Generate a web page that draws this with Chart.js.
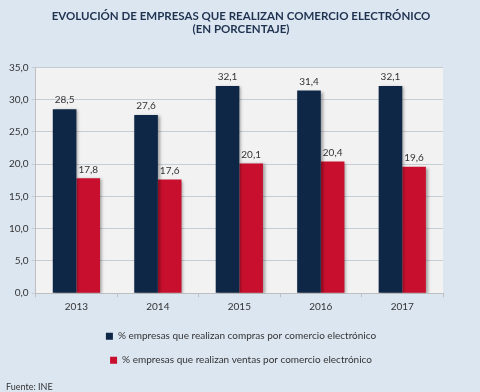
<!doctype html>
<html>
    <head>
        <title>Comercio electrónico</title>
        <meta name="viewport" content="width=device-width, initial-scale=1.0">
        <script src="https://cdn.jsdelivr.net/npm/chart.js@4.4.1/dist/chart.umd.min.js"></script>
        <style>
            html, body { margin: 0; padding: 0; background: #dce6f1; }
            #container { position: relative; width: 480px; height: 392px; }
        </style>
    </head>
    <body>
        <div id=container>
            <canvas id="ecomChart" width="480" height="392"></canvas>
        </div>

        <script>
            var years = ['2013', '2014', '2015', '2016', '2017'];
            var compras = [28.5, 27.6, 32.1, 31.4, 32.1];
            var ventas = [17.8, 17.6, 20.1, 20.4, 19.6];
            var seriesNames = ['% empresas que realizan compras por comercio electrónico',
                               '% empresas que realizan ventas por comercio electrónico'];
            var titleLines = ['EVOLUCIÓN DE EMPRESAS QUE REALIZAN COMERCIO ELECTRÓNICO', '(EN PORCENTAJE)'];
            var sourceText = 'Fuente: INE';

            function coma(v) {
                return Number(v).toFixed(1).replace('.', ',');
            }

            // plot area background + bar shadows + value labels
            var decor = {
                id: 'decor',
                beforeDraw: function(chart) {
                    var a = chart.chartArea, ctx = chart.ctx;
                    ctx.save();
                    ctx.fillStyle = '#f2f2f2';
                    ctx.fillRect(a.left, a.top, a.right - a.left, a.bottom - a.top);
                    ctx.restore();
                },
                beforeDatasetsDraw: function(chart) {
                    var ctx = chart.ctx;
                    ctx.save();
                    ctx.shadowColor = 'rgba(0,0,0,0.35)';
                    ctx.shadowOffsetX = 2;
                    ctx.shadowOffsetY = 1;
                    ctx.shadowBlur = 3;
                },
                afterDatasetsDraw: function(chart) {
                    var ctx = chart.ctx;
                    ctx.restore();
                    ctx.save();
                    ctx.font = '10px Lato';
                    ctx.fillStyle = '#333333';
                    ctx.textAlign = 'center';
                    ctx.textBaseline = 'bottom';
                    chart.data.datasets.forEach(function(ds, i) {
                        chart.getDatasetMeta(i).data.forEach(function(bar, j) {
                            ctx.fillText(coma(ds.data[j]), bar.x, bar.y - 4);
                        });
                    });
                    ctx.restore();
                }
            };

            var ctx = document.getElementById('ecomChart').getContext('2d');
            var chart = new Chart(ctx, {
                type: 'bar',
                data: {
                    labels: years,
                    datasets: [{
                        label: seriesNames[0],
                        backgroundColor: '#0f2747',
                        data: compras
                    }, {
                        label: seriesNames[1],
                        backgroundColor: '#c8102e',
                        data: ventas
                    }]
                },
                options: {
                    responsive: false,
                    animation: false,
                    datasets: {
                        bar: { categoryPercentage: 0.58, barPercentage: 1.0 }
                    },
                    layout: { padding: { top: 2, left: 6, right: 4, bottom: 0 } },
                    scales: {
                        x: {
                            grid: { drawOnChartArea: false, tickLength: 4, color: '#bfbfbf' },
                            border: { color: '#bfbfbf' },
                            ticks: { color: '#333333', font: { family: 'Lato', size: 10 }, padding: 4 }
                        },
                        y: {
                            min: 0,
                            max: 35,
                            ticks: {
                                stepSize: 5,
                                color: '#333333',
                                font: { family: 'Lato', size: 10 },
                                padding: 3,
                                callback: function(v) { return coma(v); }
                            },
                            grid: { color: '#c6ccd4', tickLength: 4 },
                            border: { color: '#bfbfbf' }
                        },
                        // empty right axis, only keeps the plot narrower than the page
                        yPad: {
                            position: 'right',
                            min: 0,
                            max: 1,
                            grid: { drawOnChartArea: false, drawTicks: false },
                            border: { display: false },
                            ticks: { display: false },
                            afterFit: function(s) { s.width = 33; }
                        }
                    },
                    plugins: {
                        title: {
                            display: true,
                            text: titleLines,
                            color: '#1f3350',
                            font: { family: 'Lato', size: 11.5, weight: 'bold', lineHeight: 1.1 },
                            padding: { top: 8, bottom: 32 }
                        },
                        legend: {
                            position: 'bottom',
                            labels: {
                                color: '#333333',
                                font: { family: 'Lato', size: 10 },
                                boxWidth: 7,
                                boxHeight: 7,
                                padding: 14
                            }
                        },
                        subtitle: {
                            display: true,
                            text: sourceText,
                            position: 'bottom',
                            align: 'start',
                            color: '#333333',
                            font: { family: 'Lato', size: 9 },
                            padding: { top: 6, bottom: 0 }
                        },
                        tooltip: { enabled: false }
                    }
                },
                plugins: [decor]
            });
        </script>
    </body>
</html>
